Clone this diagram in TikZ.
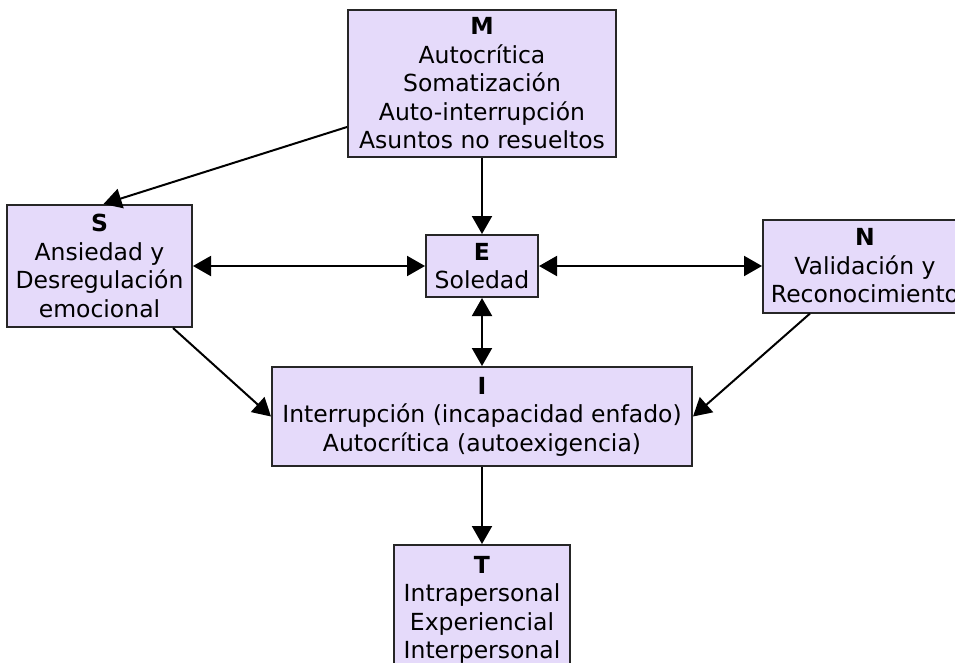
\documentclass[tikz,border=0pt]{standalone}
\usepackage{fontspec}
\setmainfont{DejaVu Sans}
\usetikzlibrary{positioning}
\usetikzlibrary{arrows.meta}
\definecolor{lavender}{RGB}{229,218,250}

\begin{document}
\begin{tikzpicture}[x=1pt, y=-1pt,
  box/.style = {draw=black!85, fill=lavender, line width=2pt, rectangle, align=center, inner sep=0pt, font=\fontsize{23.5}{28.5}\selectfont},
  link/.style = {-{Triangle[length=18pt,width=20pt]}, line width=2pt},
  both/.style = {{Triangle[length=18pt,width=20pt]}-{Triangle[length=18pt,width=20pt]}, line width=2pt}]
  \path[use as bounding box, clip] (0,0) rectangle (955,662);

  \node[box, minimum width=268pt, minimum height=147pt] (m) at (482,83.5) {\textbf{M}\\Autocrítica\\Somatización\\Auto-interrupción\\Asuntos no resueltos};
  \node[box, below=76pt of m, minimum width=112pt, minimum height=62pt] (e) {\textbf{E}\\Soledad};
  \node[box, left=232pt of e, minimum width=185pt, minimum height=122pt] (s) {\textbf{S}\\Ansiedad y\\Desregulación\\emocional};
  \node[box, right=223pt of e, minimum width=204pt, minimum height=93pt] (n) {\textbf{N}\\Validación y\\Reconocimiento};
  \node[box, below=68pt of e, minimum width=420pt, minimum height=99pt] (i) {\textbf{I}\\Interrupción (incapacidad enfado)\\Autocrítica (autoexigencia)};
  \node[box, below=77pt of i, minimum width=176pt, minimum height=130pt] (t) {\textbf{T}\\Intrapersonal\\Experiencial\\Interpersonal};

  \draw[link] ([yshift=-43.5pt]m.west) -- ([xshift=4pt]s.north);
  \draw[link] (m) -- (e);
  \draw[both] (s) -- (e);
  \draw[both] (e) -- (n);
  \draw[both] (e) -- (i);
  \draw[link] ([xshift=-20pt]s.south east) -- (i.west);
  \draw[link] ([xshift=48pt]n.south west) -- (i.east);
  \draw[link] (i) -- (t);
\end{tikzpicture}
\end{document}
